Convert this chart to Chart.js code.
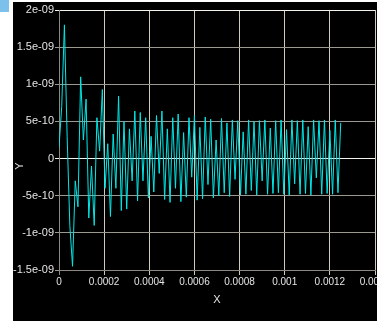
<!DOCTYPE html>
<html>
<head>
<meta charset="utf-8">
<script src="https://cdn.jsdelivr.net/npm/chart.js@4/dist/chart.umd.min.js"></script>
<style>
  html, body { margin: 0; padding: 0; background: #fff; overflow: hidden; }
  #wrap { position: relative; width: 377px; height: 321px; }
</style>
</head>
<body>
<div id="wrap"><canvas id="signal-chart"></canvas></div>
<script>
// sample step (s) and signal values in units of 1e-10
const dt = 1.2e-5;
const yUnit = 1e-10;
const yVals = [
    1.5, 7, 18, 3, -9, -14.5, -3, -6.5, 11, 2.5,
    8, -8, -1, -9, 5.5, 1, 9.3, -4, 2, -7.8,
    3.3, -4, 8.4, -7, 5, -6.8, 4, -3, 6.4, -5.7,
    6.2, -3, 5.5, -5.3, 3, -4.5, 5.8, -2, 6.4, -5.5,
    4, -5.9, 5.5, -4, 6, -5.8, 3.5, -5.2, 5.5, -2.5,
    5.8, -5.6, 4.2, -5.4, 5.6, -3.5, 5.3, -5.3, 2.5, -5,
    5.4, -4.6, 4.8, -5.1, 5.2, -2.8, 5.1, -4.9, 3.6, -4.8,
    5.2, -4.3, 5.0, -4.9, 5.1, -3.0, 5.2, -4.8, 4.1, -4.7,
    5.1, -4.6, 5.2, -4.8, 3.9, -4.9, 5.2, -3.4, 5.1, -4.8,
    5.2, -4.7, 4.3, -4.9, 5.2, -2.6, 5.1, -4.8, 5.2, -4.7,
    3.8, -4.8, 5.2, -4.6, 4.8
];

const xTickVals = [0, 0.0002, 0.0004, 0.0006, 0.0008, 0.001, 0.0012, 0.0014];
const xTickLabels = ["0", "0.0002", "0.0004", "0.0006", "0.0008", "0.001", "0.0012", "0.0014"];
const yTickVals = [-1.5e-9, -1e-9, -5e-10, 0, 5e-10, 1e-9, 1.5e-9, 2e-9];
const yTickLabels = ["-1.5e-09", "-1e-09", "-5e-10", "0", "5e-10", "1e-09", "1.5e-09", "2e-09"];

const points = yVals.map((v, i) => ({ x: i * dt, y: v * yUnit }));

const backdrop = {
    id: 'backdrop',
    beforeDraw(chart) {
        const ctx = chart.ctx;
        ctx.save();
        ctx.fillStyle = '#000';
        ctx.fillRect(13, 2, 364, 319);
        ctx.fillStyle = '#7cc0ec';
        ctx.fillRect(0, 0, 9, 12);
        ctx.restore();
    },
    afterDraw(chart) {
        const ctx = chart.ctx;
        ctx.save();
        ctx.translate(20, 166);
        ctx.rotate(-Math.PI / 2);
        ctx.fillStyle = '#e0e0e0';
        ctx.font = '11px "Liberation Sans", Arial, sans-serif';
        ctx.textAlign = 'center';
        ctx.textBaseline = 'middle';
        ctx.fillText('Y', 0, 0);
        ctx.restore();
    }
};

new Chart(document.getElementById("signal-chart"), {
    type: 'line',
    data: {
        datasets: [{
            data: points,
            borderColor: "#00e8e8",
            borderWidth: 1,
            pointRadius: 0,
            tension: 0,
            fill: false
        }]
    },
    options: {
        responsive: true,
        maintainAspectRatio: false,
        animation: false,
        layout: { padding: { left: 0, right: 2, top: 10, bottom: 0 } },
        plugins: {
            legend: { display: false },
            tooltip: { enabled: false }
        },
        scales: {
            x: {
                type: 'linear',
                min: 0,
                max: 0.0014,
                afterBuildTicks: s => { s.ticks = xTickVals.map(v => ({ value: v })); },
                afterFit: s => { s.height = 51; s.paddingLeft = 0; s.paddingRight = 0; },
                ticks: {
                    color: '#e4e4e4',
                    font: { family: '"Liberation Sans", Arial, sans-serif', size: 10 },
                    padding: 1,
                    maxRotation: 0,
                    autoSkip: false,
                    callback: (v, i) => xTickLabels[i]
                },
                grid: {
                    color: c => c.tick && c.tick.value === 0 ? '#8c8a80' : '#cfcbb8',
                    tickLength: 5
                },
                border: { color: '#8c8a80' },
                title: {
                    display: true,
                    text: 'X',
                    color: '#e0e0e0',
                    font: { family: '"Liberation Sans", Arial, sans-serif', size: 11 },
                    padding: { top: 0, bottom: 14 }
                }
            },
            y: {
                min: -1.5e-9,
                max: 2e-9,
                afterBuildTicks: s => { s.ticks = yTickVals.map(v => ({ value: v })); },
                afterFit: s => { s.width = 59; s.paddingTop = 0; s.paddingBottom = 0; },
                ticks: {
                    color: '#e4e4e4',
                    font: { family: '"Liberation Sans", Arial, sans-serif', size: 11 },
                    padding: 1,
                    autoSkip: false,
                    callback: (v, i) => yTickLabels[i]
                },
                grid: {
                    color: c => {
                        if (!c.tick) return '#9c9a90';
                        if (c.tick.value === 0 || c.tick.value === 2e-9) return '#f4f4ec';
                        return '#9c9a90';
                    },
                    tickLength: 4
                },
                border: { color: '#8c8a80' }
            }
        }
    },
    plugins: [backdrop]
});
</script>
</body>
</html>
